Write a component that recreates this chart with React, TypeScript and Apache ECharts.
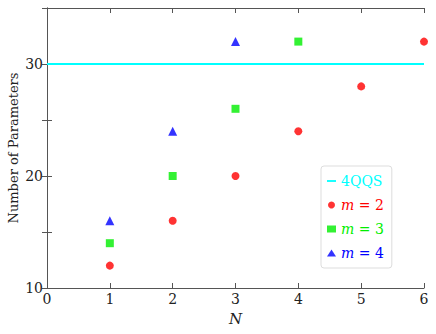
import React, { useEffect, useRef } from "react";
import * as echarts from "echarts";

const nValues2 = [1, 2, 3, 4, 5, 6];
const params2 = [12, 16, 20, 24, 28, 32];
const nValues3 = [1, 2, 3, 4];
const params3 = [14, 20, 26, 32];
const nValues4 = [1, 2, 3];
const params4 = [16, 24, 32];
const qqsLevel = 30;
const xRange = [0, 6];

const FONT = "DejaVu Serif";

export default function App() {
  const ref = useRef<HTMLDivElement>(null);
  useEffect(() => {
    if (!ref.current) return;
    const chart = echarts.init(ref.current, undefined, { renderer: "svg" });
    const axisLine = { show: true, lineStyle: { color: "#555", width: 1 } };
    const tick = { show: true, inside: true, length: 5, lineStyle: { color: "#555" } };
    const names: Record<string, string> = { m2: "2", m3: "3", m4: "4" };
    const colorKey: Record<string, string> = { m2: "r", m3: "g", m4: "b" };
    chart.setOption({
      animation: false,
      textStyle: { fontFamily: FONT },
      grid: { left: 47, right: 12, top: 8, bottom: 46, outerBoundsMode: "none", containLabel: false },
      xAxis: [
        {
          type: "value",
          min: 0,
          max: 6,
          interval: 1,
          name: "N",
          nameLocation: "middle",
          nameGap: 23,
          nameMoveOverlap: false,
          nameTextStyle: { fontFamily: FONT, fontSize: 15, fontStyle: "italic", color: "#222" },
          axisLine,
          axisTick: tick,
          splitLine: { show: false },
          axisLabel: { fontFamily: FONT, fontSize: 14, color: "#222", margin: 4 },
        },
        {
          type: "value",
          position: "top",
          min: 0,
          max: 6,
          interval: 1,
          axisLine,
          axisTick: tick,
          splitLine: { show: false },
          axisLabel: { show: false },
        },
      ],
      yAxis: [
        {
          type: "value",
          min: 10,
          max: 35,
          interval: 5,
          name: "Number of Parameters",
          nameLocation: "middle",
          nameGap: 27,
          nameMoveOverlap: false,
          nameTextStyle: { fontFamily: FONT, fontSize: 13, color: "#222" },
          axisLine,
          axisTick: tick,
          splitLine: { show: false },
          axisLabel: {
            fontFamily: FONT,
            fontSize: 14,
            color: "#222",
            margin: 4,
            formatter: (v: number) => (v % 10 === 0 ? String(v) : ""),
          },
        },
        {
          type: "value",
          position: "right",
          min: 10,
          max: 35,
          interval: 5,
          axisLine,
          axisTick: tick,
          splitLine: { show: false },
          axisLabel: { show: false },
        },
      ],
      legend: {
        orient: "vertical",
        left: 321,
        top: 166,
        padding: [8, 8, 8, 6],
        backgroundColor: "#fff",
        borderColor: "#ddd",
        borderWidth: 1,
        borderRadius: 3,
        itemWidth: 9,
        itemHeight: 7,
        itemGap: 10,
        data: [
          { name: "4QQS", icon: "path://M0,0 L10,0 L10,2 L0,2 Z", textStyle: { color: "#00ffff" } },
          { name: "m2", icon: "circle" },
          { name: "m3", icon: "rect" },
          { name: "m4", icon: "triangle" },
        ],
        formatter: (name: string) => {
          if (name === "4QQS") return name;
          const k = colorKey[name];
          return `{${k}i|m}{${k}| = ${names[name]}}`;
        },
        textStyle: {
          fontFamily: FONT,
          fontSize: 14,
          color: "#00ffff",
          rich: {
            r: { fontFamily: FONT, fontSize: 14, color: "#ff0000" },
            ri: { fontFamily: FONT, fontSize: 14, color: "#ff0000", fontStyle: "italic" },
            g: { fontFamily: FONT, fontSize: 14, color: "#00ee00" },
            gi: { fontFamily: FONT, fontSize: 14, color: "#00ee00", fontStyle: "italic" },
            b: { fontFamily: FONT, fontSize: 14, color: "#0000ff" },
            bi: { fontFamily: FONT, fontSize: 14, color: "#0000ff", fontStyle: "italic" },
          },
        },
      },
      series: [
        {
          name: "4QQS",
          type: "line",
          data: xRange.map((x) => [x, qqsLevel]),
          symbol: "none",
          lineStyle: { color: "#00ffff", width: 2 },
          itemStyle: { color: "#00ffff" },
        },
        {
          name: "m2",
          type: "scatter",
          data: nValues2.map((x, i) => [x, params2[i]]),
          symbol: "circle",
          symbolSize: 8,
          itemStyle: { color: "#ff0000" },
        },
        {
          name: "m3",
          type: "scatter",
          data: nValues3.map((x, i) => [x, params3[i]]),
          symbol: "rect",
          symbolSize: 8,
          itemStyle: { color: "#00ee00" },
        },
        {
          name: "m4",
          type: "scatter",
          data: nValues4.map((x, i) => [x, params4[i]]),
          symbol: "triangle",
          symbolSize: 9,
          itemStyle: { color: "#0000ff" },
        },
      ],
    });
    return () => chart.dispose();
  }, []);
  return <div ref={ref} style={{ width: 436, height: 334, position: "absolute", left: 0, top: 0 }} />;
}
